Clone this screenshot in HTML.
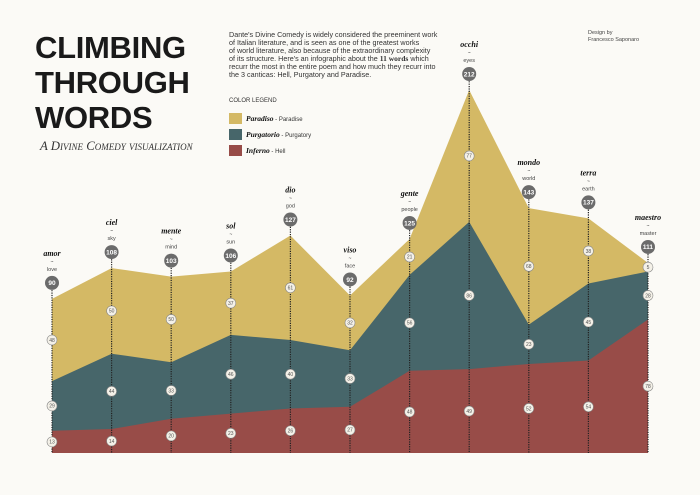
<!DOCTYPE html>
<html><head><meta charset="utf-8"><style>
html,body{margin:0;padding:0;background:#fbfaf6;}
body{width:700px;height:495px;overflow:hidden;position:relative;font-family:"Liberation Sans",sans-serif;}
.t{position:absolute;color:#1a1a1a;}
#title{left:35px;top:30px;font-size:31px;line-height:35px;font-weight:bold;letter-spacing:-0.3px;}
#sub{left:40px;top:139px;font-family:"Liberation Serif",serif;font-style:italic;font-variant:small-caps;font-size:12.8px;color:#333;}
#para{left:229px;top:31px;font-size:7.2px;line-height:7.9px;color:#333;white-space:nowrap;}
#credit{left:588px;top:30px;font-size:5.5px;line-height:7px;color:#444;}
#leg-title{left:229px;top:98px;font-size:6px;color:#333;}
.sw{position:absolute;left:229px;width:13px;height:11px;}
.lt{position:absolute;left:246px;font-size:6px;color:#333;}
.lt b{font-family:"Liberation Serif",serif;font-style:italic;font-size:7.5px;color:#111;}
</style></head><body>
<div class="t" id="title">CLIMBING<br>THROUGH<br>WORDS</div>
<div class="t" id="sub">A Divine Comedy visualization</div>
<div class="t" id="para">Dante's Divine Comedy is widely considered the preeminent work<br>of Italian literature, and is seen as one of the greatest works<br>of world literature, also because of the extraordinary complexity<br>of its structure. Here's an infographic about the <b style="font-family:'Liberation Serif',serif;font-size:7.5px">11 words</b> which<br>recurr the most in the entire poem and how much they recurr into<br>the 3 canticas: Hell, Purgatory and Paradise.</div>
<div class="t" id="credit">Design by<br>Francesco Saponaro</div>
<div class="t" id="leg-title">COLOR LEGEND</div>
<div class="sw" style="top:113px;background:#d4b965"></div>
<div class="lt" style="top:114px"><b>Paradiso</b> - Paradise</div>
<div class="sw" style="top:129px;background:#47666a"></div>
<div class="lt" style="top:130px"><b>Purgatorio</b> - Purgatory</div>
<div class="sw" style="top:145px;background:#984c48"></div>
<div class="lt" style="top:146px"><b>Inferno</b> - Hell</div>
<svg id="chart" width="700" height="495" style="position:absolute;left:0;top:0"></svg>
<script>
const words = ["amor","ciel","mente","sol","dio","viso","gente","occhi","mondo","terra","maestro"];
const translations = ["love","sky","mind","sun","god","face","people","eyes","world","earth","master"];
const inferno = [13,14,20,23,26,27,48,49,52,54,78];
const purgatorio = [29,44,33,46,40,33,56,86,23,45,28];
const paradiso = [48,50,50,37,61,32,21,77,68,38,5];

const NS="http://www.w3.org/2000/svg";
const svg=document.getElementById('chart');
const x0=52,x1=648,base=453,scale=363/212;
const xs=i=>x0+(x1-x0)*i/(words.length-1);
const ys=v=>base-v*scale;
function mk(tag,attrs){const e=document.createElementNS(NS,tag);for(const k in attrs)e.setAttribute(k,attrs[k]);svg.appendChild(e);return e;}
const layers=[inferno,purgatorio,paradiso];
const colors=["#984c48","#47666a","#d4b965"];
const lnames=["area-inferno","area-purgatorio","area-paradiso"];
const cum=[words.map(()=>0)];
layers.forEach((l,k)=>cum.push(l.map((v,i)=>cum[k][i]+v)));
for(let k=2;k>=0;k--){
  let d=words.map((w,i)=>(i?'L':'M')+xs(i)+','+ys(cum[k+1][i])).join(' ');
  d+=' L'+xs(words.length-1)+','+base+' L'+xs(0)+','+base+' Z';
  const p=mk('path',{d:d,fill:colors[k]});
  
  
}
words.forEach((w,i)=>{
  const x=xs(i),tot=cum[3][i],ty=ys(tot)-16;
  const ln=mk('line',{x1:x,y1:ty,x2:x,y2:base,stroke:'#222','stroke-width':1.2,'stroke-dasharray':'1.2,1.2'});
  
  
  for(let k=0;k<3;k++){
    const cy=ys((cum[k][i]+cum[k+1][i])/2);
    const c=mk('circle',{cx:x,cy:cy,r:5,fill:'#f4f1e8',stroke:'#888','stroke-width':0.6});
    
    
    const t=mk('text',{x:x,y:cy+1.8,'text-anchor':'middle','font-size':5,fill:'#555','font-family':'Liberation Sans, sans-serif'});
    t.textContent=layers[k][i];
    
    
  }
  const tc=mk('circle',{cx:x,cy:ty,r:7,fill:'#6b6b6b'});
  
  
  const tt=mk('text',{x:x,y:ty+2.3,'text-anchor':'middle','font-size':6.5,'font-weight':'bold',fill:'#fff','font-family':'Liberation Sans, sans-serif'});
  tt.textContent=tot;
  
  
  const wt=mk('text',{x:x,y:ty-27,'text-anchor':'middle','font-size':8,'font-weight':'bold','font-style':'italic',fill:'#111','font-family':'Liberation Serif, serif'});
  wt.textContent=w;
  
  
  const tl=mk('text',{x:x,y:ty-12,'text-anchor':'middle','font-size':5.5,fill:'#444','font-family':'Liberation Sans, sans-serif'});
  tl.textContent=translations[i];
  
  
  const tilde=mk('text',{x:x,y:ty-19.5,'text-anchor':'middle','font-size':5,fill:'#444'});
  tilde.textContent='~';
  
  
});
</script>
</body></html>
